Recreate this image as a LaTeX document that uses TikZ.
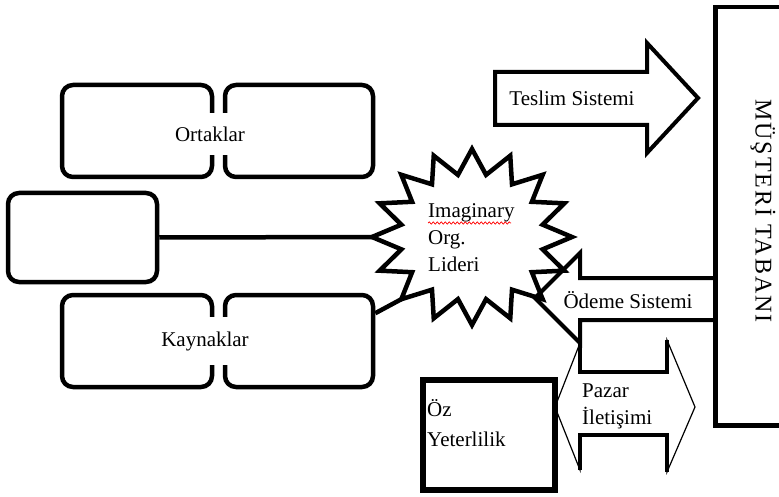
\documentclass[tikz,border=0pt]{standalone}
\usepackage{fontspec}
\setmainfont{Liberation Serif}
\usetikzlibrary{decorations.pathmorphing}
\begin{document}
\begin{tikzpicture}[x=1pt,y=-1pt,
  txt/.style={font=\fontsize{21}{27}\selectfont, inner sep=0pt},
  chainbox/.style={draw, line width=4.5pt, rounded corners=11pt, minimum height=92pt, inner sep=0pt},
  plainbox/.style={draw, inner sep=0pt},
  heavy/.style={line width=4.5pt},
  arrowline/.style={line width=4pt, line join=miter},
]
\useasboundingbox (0,0) rectangle (779,497);

% --- Ortaklar: two linked rounded boxes
\node[chainbox, minimum width=150pt] (ortL) at (137,131) {};
\node[chainbox, minimum width=148pt] (ortR) at (299,131) {};
\node[txt, fill=white, minimum height=42pt, inner xsep=3pt] (ort) at (210,134) {Ortaklar};

% --- Kaynaklar: two linked rounded boxes
\node[chainbox, minimum width=150pt] (kayL) at (137,341) {};
\node[chainbox, minimum width=148pt] (kayR) at (299,341) {};
\node[txt, fill=white, minimum height=48pt, inner xsep=3pt] (kay) at (205,341) {Kaynaklar};

% --- empty box on the left
\node[chainbox, minimum width=149pt, minimum height=89pt] (mid) at (82.5,237.5) {};

% --- star burst
\foreach \k in {0,...,15}
  \coordinate (sp\k) at ({472+100*cos(90+22.5*\k)}, {237-88*sin(90+22.5*\k)});
\draw[heavy] (mid.east) -- (sp4);
\draw[heavy] (kayR.20) -- (sp6);
\draw[heavy, fill=white, line join=miter]
  plot[samples=33, domain=0:32, variable=\k]
  ({472+(1-0.28*mod(\k,2))*100*cos(90+11.25*\k)}, {237-(1-0.28*mod(\k,2))*88*sin(90+11.25*\k)}) -- cycle;
\node[txt, anchor=north west, align=left] (lider) at (428,203) {Imaginary\\Org.\\Lideri};
\draw[red, line width=0.7pt, decorate, decoration={snake, amplitude=1.1pt, segment length=4pt}]
  (lider.north west) ++(0,20) -- ++(83,0);

% --- customer base
\node[plainbox, line width=4.5pt, minimum width=95pt, minimum height=418pt, anchor=north west] (mus) at (713,5) {};
\node[txt, font=\fontsize{24}{28}\selectfont, rotate=-90] (muslbl) at (763,211) {\addfontfeatures{LetterSpace=8}MÜŞTERİ TABANI};

% --- delivery system arrow
\coordinate (tesA) at (495,72);
\draw[arrowline] (tesA) -- (647,72) -- (647,43) -- (698,98) -- (647,153) -- (647,125) -- (495,125) -- cycle;
\node[txt] (tes) at (572,98) {Teslim Sistemi};

% --- payment system arrow, back from the customer base
\coordinate (odTip) at (535,298);
\draw[arrowline] (mus.north west |- 0,278) -- (580,278) -- (580,253) -- (odTip) -- (580,343) -- (580,320) -- (mus.north west |- 0,320);
\node[txt] (ode) at (628,300) {Ödeme Sistemi};

% --- market communication, two-way arrow
\coordinate (pzL) at (555,407);
\coordinate (pzR) at (695,407);
\draw[line width=1.2pt, line join=miter] (pzL) -- (580,343) -- (580,372) -- (667,372) -- (667,340) -- (pzR) -- (667,472) -- (667,435) -- (580,435) -- (580,470) -- cycle;
\draw[line width=3.5pt] (580,343) -- (580,372) -- (667,372) -- (667,340);
\draw[line width=3.5pt] (580,470) -- (580,435) -- (667,435) -- (667,472);
\node[txt, anchor=north west, align=left] (pazar) at (582,384) {Pazar\\İletişimi};

% --- self-efficacy box
\node[plainbox, line width=6pt, minimum width=132pt, minimum height=110pt] (oz) at (489,435) {};
\node[txt, font=\fontsize{21}{30}\selectfont, anchor=north west, align=left] (ozlbl) at (427,399) {Öz\\Yeterlilik};
\end{tikzpicture}
\end{document}
